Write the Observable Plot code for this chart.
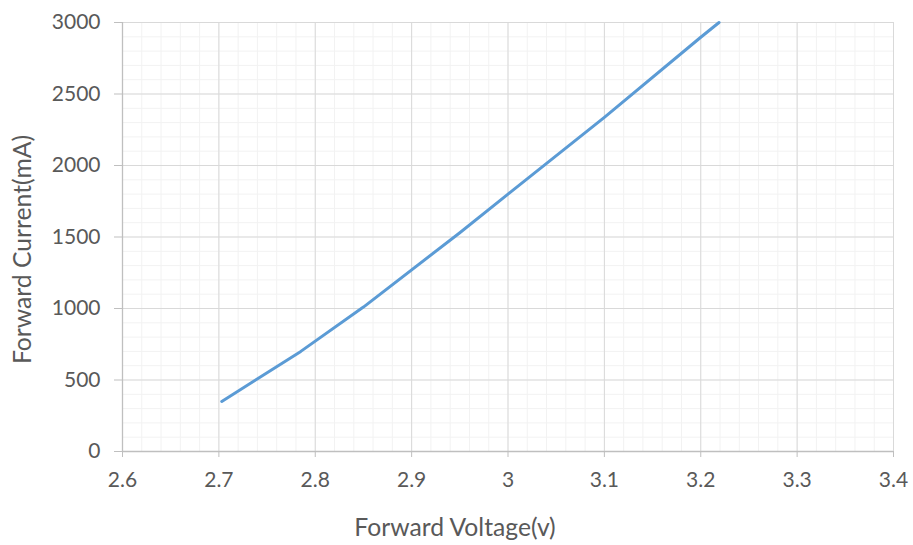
<!DOCTYPE html>
<html>
<head>
<meta charset="utf-8">
<script src="https://cdn.jsdelivr.net/npm/d3@7"></script>
<script src="https://cdn.jsdelivr.net/npm/@observablehq/plot@0.6"></script>
<style>
  html, body { margin: 0; padding: 0; background: #fff; }
  #chart svg { font-family: Lato, "Open Sans", sans-serif; }
</style>
</head>
<body>
<div id="chart"></div>
<script>
const voltage = [2.703, 2.785, 2.85, 2.95, 3.0, 3.1, 3.2, 3.219];
const current = [350, 700, 1010, 1530, 1800, 2337, 2897, 3000];
const xTicks = [2.6, 2.7, 2.8, 2.9, 3.0, 3.1, 3.2, 3.3, 3.4];
const yTicks = [0, 500, 1000, 1500, 2000, 2500, 3000];
const xMinor = d3.range(0, 41).map(i => +(2.6 + i * 0.02).toFixed(2));
const yMinor = d3.range(0, 31).map(i => i * 100);
const xTitle = "Forward Voltage(v)";
const yTitle = "Forward Current(mA)";

const data = voltage.map((v, i) => ({v, c: current[i]}));

const chart = Plot.plot({
  width: 913,
  height: 545,
  marginLeft: 122,
  marginRight: 20,
  marginTop: 22,
  marginBottom: 94,
  style: {fontFamily: "Lato, 'Open Sans', sans-serif", fontSize: "21px", color: "#595959", background: "#fff"},
  x: {domain: [2.6, 3.4]},
  y: {domain: [0, 3000]},
  marks: [
    Plot.ruleX(xMinor, {stroke: "#f2f2f2", strokeWidth: 1}),
    Plot.ruleY(yMinor, {stroke: "#f2f2f2", strokeWidth: 1}),
    Plot.ruleX(xTicks, {stroke: "#d9d9d9", strokeWidth: 1}),
    Plot.ruleY(yTicks, {stroke: "#d9d9d9", strokeWidth: 1}),
    Plot.ruleX([2.6], {stroke: "#bfbfbf", strokeWidth: 1.3}),
    Plot.ruleY([0], {stroke: "#bfbfbf", strokeWidth: 1.3}),
    Plot.axisX({ticks: xTicks, tickSize: 6, tickPadding: 15, stroke: "#bfbfbf", fill: "#595959",
      tickFormat: d => String(+d.toFixed(1)), label: null, fontSize: 21}),
    Plot.axisY({ticks: yTicks, tickSize: 8, tickPadding: 14, stroke: "#bfbfbf", fill: "#595959",
      tickFormat: d => String(d), label: null, fontSize: 21}),
    Plot.line(data, {x: "v", y: "c", stroke: "#5b9bd5", strokeWidth: 3, strokeLinejoin: "round", strokeLinecap: "round"}),
    Plot.text([xTitle], {frameAnchor: "bottom", dx: -53, dy: 77, fill: "#595959", fontSize: 24.7, lineAnchor: "middle", textAnchor: "middle"}),
    Plot.text([yTitle], {frameAnchor: "left", dx: -99, dy: 12.5, rotate: -90, fill: "#595959", fontSize: 24.7, lineAnchor: "middle", textAnchor: "middle"})
  ]
});
document.getElementById("chart").appendChild(chart);
</script>
</body>
</html>
